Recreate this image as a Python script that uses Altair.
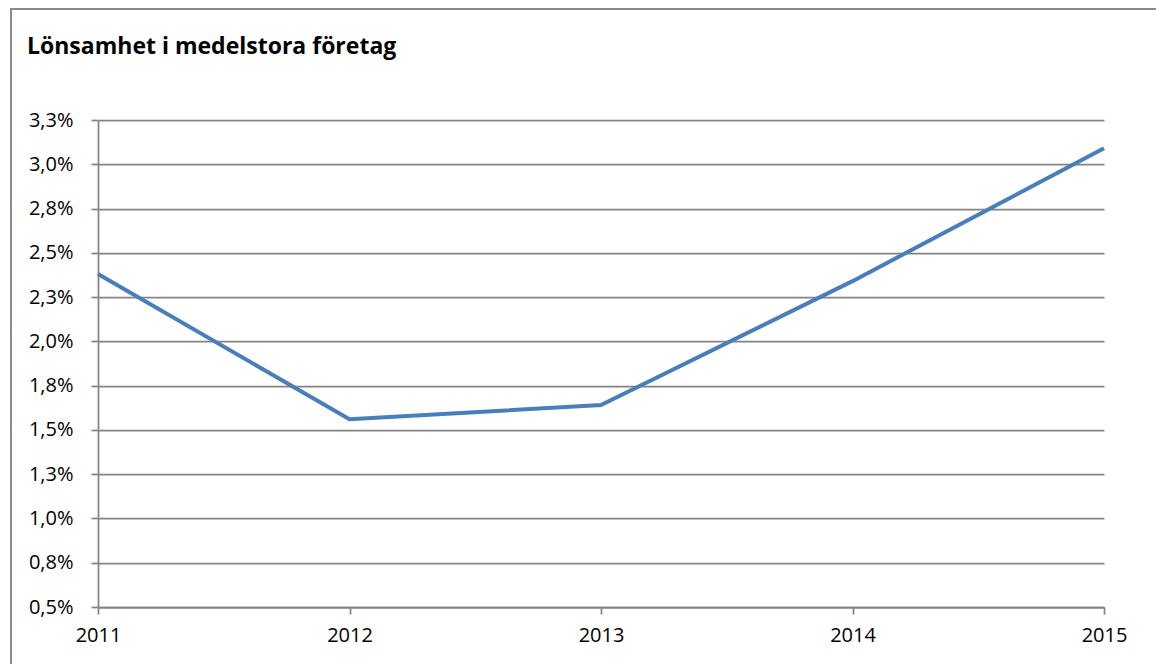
import altair as alt
import pandas as pd

# --- data ---
years = [2011, 2012, 2013, 2014, 2015]
profitability_pct = [2.38, 1.56, 1.64, 2.34, 3.09]
y_ticks = [0.5, 0.75, 1.0, 1.25, 1.5, 1.75, 2.0, 2.25, 2.5, 2.75, 3.0, 3.25]
title_text = "Lönsamhet i medelstora företag"

df = pd.DataFrame({"year": years, "value": profitability_pct})

GRAY = "#848484"
BLUE = "#4a7ebb"
FONT = "Open Sans"

line = alt.Chart(df).mark_line(color=BLUE, strokeWidth=4, strokeJoin="miter").encode(
    x=alt.X(
        "year:Q",
        scale=alt.Scale(domain=[2011, 2015], nice=False, zero=False),
        axis=alt.Axis(
            values=years, format="d", title=None, grid=False,
            labelPadding=11, labelFontSize=20, labelFlush=False,
        ),
    ),
    y=alt.Y(
        "value:Q",
        scale=alt.Scale(domain=[0.5, 3.25], nice=False, zero=False),
        axis=alt.Axis(
            values=y_ticks, title=None, grid=True,
            labelExpr="replace(format(datum.value, '.1f'), '.', ',') + '%'",
            labelPadding=18, labelFontSize=20,
        ),
    ),
)

frame = alt.Chart(pd.DataFrame({"k": [0]})).mark_rect(
    fill="transparent", stroke="#8a8a8a", strokeWidth=2
).encode(
    x=alt.value(-87), x2=alt.value(1300), y=alt.value(-111), y2=alt.value(800)
)

chart = alt.layer(frame, line).properties(
    width=1006,
    height=487,
    background="white",
    title=alt.TitleParams(
        title_text, anchor="start", frame="group", dx=-71, dy=69, offset=0,
        baseline="alphabetic",
        font=FONT, fontSize=23, fontWeight="bold", color="#000000",
    ),
    padding={"left": 98, "top": 120, "right": 52, "bottom": 57},
    autosize=alt.AutoSizeParams(type="none"),
).configure_view(stroke=None).configure_axis(
    domainColor=GRAY, domainWidth=1.75, tickColor=GRAY, tickWidth=1.75, tickSize=7,
    gridColor=GRAY, gridWidth=1.75, gridOpacity=1,
    labelFont=FONT, labelColor="#000000",
)

chart.save("out.html", embed_options={"renderer": "svg", "actions": False})
